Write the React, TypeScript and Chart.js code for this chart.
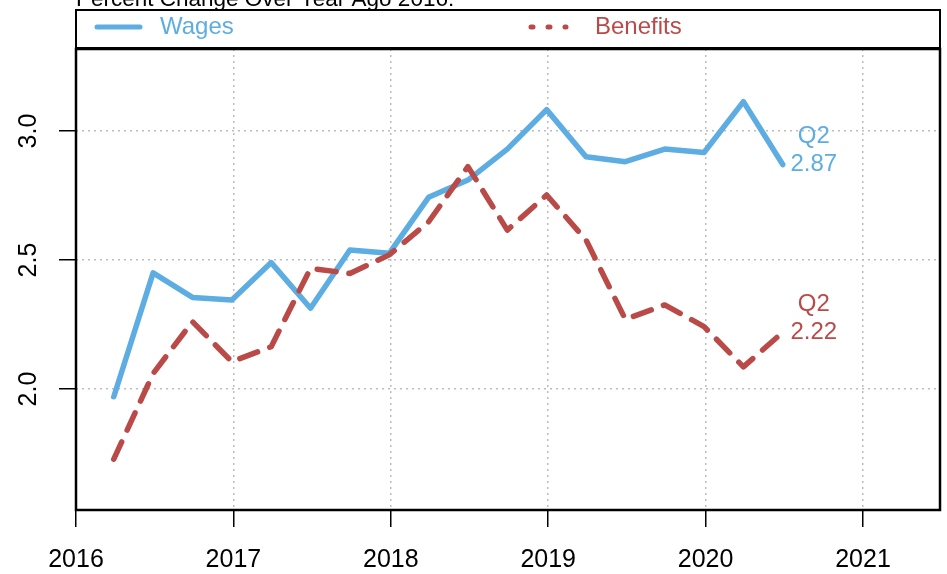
import React, { useEffect, useRef } from "react";
import { Chart, registerables } from "chart.js";

Chart.register(...registerables);

const quarters = [
  2016.24, 2016.49, 2016.74, 2016.99, 2017.24, 2017.49, 2017.74, 2017.99, 2018.24,
  2018.49, 2018.74, 2018.99, 2019.24, 2019.49, 2019.74, 2019.99, 2020.24, 2020.49,
];
const wages = [
  1.97, 2.45, 2.355, 2.345, 2.49, 2.313, 2.539, 2.526, 2.743, 2.81, 2.93, 3.083,
  2.9, 2.881, 2.93, 2.917, 3.114, 2.87,
];
const benefits = [
  1.728, 2.06, 2.261, 2.106, 2.164, 2.468, 2.448, 2.52, 2.648, 2.862, 2.616,
  2.752, 2.578, 2.27, 2.326, 2.242, 2.086, 2.22,
];
const xTicks = [2016, 2017, 2018, 2019, 2020, 2021];
const yTicks = [2.0, 2.5, 3.0];
const yTickLabels = ["2.0", "2.5", "3.0"];
const seriesNames = ["Wages", "Benefits"];
const endLabels = [
  ["Q2", "2.87"],
  ["Q2", "2.22"],
];
const titleText = "Percent Change Over Year Ago 2016:";

const BLUE = "#5DADE2";
const RED = "#B94A48";
const FONT = "'Liberation Sans', Arial, Helvetica, sans-serif";

export default function App() {
  const ref = useRef<HTMLCanvasElement | null>(null);

  useEffect(() => {
    const canvas = ref.current;
    if (!canvas) return;

    const decorPlugin = {
      id: "decor",
      afterDraw(chart: any) {
        const ctx = chart.ctx as CanvasRenderingContext2D;
        const area = chart.chartArea;
        const xs = chart.scales.x;
        const ys = chart.scales.y;
        ctx.save();

        // title (cut off at top)
        ctx.fillStyle = "#000";
        ctx.font = `22.5px ${FONT}`;
        ctx.textAlign = "left";
        ctx.textBaseline = "alphabetic";
        ctx.fillText(titleText, area.left, 5.5);

        // legend box
        ctx.strokeStyle = "#000";
        ctx.lineWidth = 2;
        ctx.strokeRect(area.left, 10, area.right - area.left, area.top - 1 - 10);

        // legend entries
        ctx.lineCap = "round";
        ctx.lineWidth = 5;
        ctx.strokeStyle = BLUE;
        ctx.setLineDash([]);
        ctx.beginPath();
        ctx.moveTo(97, 27);
        ctx.lineTo(140, 27);
        ctx.stroke();
        ctx.strokeStyle = RED;
        ctx.setLineDash([2, 15]);
        ctx.beginPath();
        ctx.moveTo(531, 27);
        ctx.lineTo(566, 27);
        ctx.stroke();
        ctx.setLineDash([]);
        ctx.font = `24px ${FONT}`;
        ctx.textBaseline = "middle";
        ctx.fillStyle = BLUE;
        ctx.fillText(seriesNames[0], 160, 27);
        ctx.fillStyle = RED;
        ctx.fillText(seriesNames[1], 595, 27);

        // plot box
        ctx.strokeStyle = "#000";
        ctx.lineWidth = 2.5;
        ctx.lineCap = "butt";
        ctx.strokeRect(area.left, area.top, area.right - area.left, area.bottom - area.top);

        // y tick labels rotated
        ctx.fillStyle = "#000";
        ctx.font = `25px ${FONT}`;
        ctx.textAlign = "center";
        ctx.textBaseline = "middle";
        yTicks.forEach((v, i) => {
          const py = ys.getPixelForValue(v);
          ctx.save();
          ctx.translate(29, py);
          ctx.rotate(-Math.PI / 2);
          ctx.fillText(yTickLabels[i], 0, 0);
          ctx.restore();
        });

        // end labels
        const series = [wages, benefits];
        const colors = [BLUE, RED];
        ctx.font = `24px ${FONT}`;
        series.forEach((s, i) => {
          const lx = xs.getPixelForValue(quarters[quarters.length - 1]) + 31;
          const ly = ys.getPixelForValue(s[s.length - 1]);
          ctx.fillStyle = colors[i];
          ctx.fillText(endLabels[i][0], lx, ly - 28);
          ctx.fillText(endLabels[i][1], lx, ly);
        });

        ctx.restore();
      },
    };

    const chart = new Chart(canvas, {
      type: "line",
      data: {
        datasets: [
          {
            label: seriesNames[0],
            data: quarters.map((q, i) => ({ x: q, y: wages[i] })),
            borderColor: BLUE,
            borderWidth: 5.5,
            borderCapStyle: "round",
            borderJoinStyle: "round",
            pointRadius: 0,
            tension: 0,
            fill: false,
            order: 1,
          },
          {
            label: seriesNames[1],
            data: quarters.map((q, i) => ({ x: q, y: benefits[i] })),
            borderColor: RED,
            borderWidth: 5.5,
            borderDash: [19, 13],
            borderCapStyle: "round",
            borderJoinStyle: "round",
            pointRadius: 0,
            tension: 0,
            fill: false,
            order: 0,
          },
        ],
      },
      options: {
        animation: false,
        responsive: false,
        devicePixelRatio: 1,
        layout: { padding: { top: 49, right: 7, left: 0, bottom: 0 } },
        plugins: {
          legend: { display: false },
          title: { display: false },
          tooltip: { enabled: false },
        },
        scales: {
          x: {
            type: "linear",
            min: 2016,
            max: 2021.489,
            afterBuildTicks: (scale: any) => {
              scale.ticks = xTicks.map((v) => ({ value: v }));
            },
            afterFit: (scale: any) => {
              scale.height = 64;
            },
            ticks: {
              color: "#000",
              font: { size: 25, family: FONT },
              padding: 18,
              maxRotation: 0,
              minRotation: 0,
              autoSkip: false,
              callback: (v: any) => String(v),
            },
            grid: {
              color: "#BDBDBD",
              lineWidth: 1.5,
              drawTicks: true,
              tickLength: 17,
              tickColor: "#000",
              tickWidth: 1.5,
              tickBorderDash: [],
            },
            border: { display: false, dash: [2, 4] },
          },
          y: {
            type: "linear",
            min: 1.531,
            max: 3.318,
            afterBuildTicks: (scale: any) => {
              scale.ticks = yTicks.map((v) => ({ value: v }));
            },
            afterFit: (scale: any) => {
              scale.width = 76;
            },
            ticks: { display: false },
            grid: {
              color: "#BDBDBD",
              lineWidth: 1.5,
              drawTicks: true,
              tickLength: 17,
              tickColor: "#000",
              tickWidth: 1.5,
              tickBorderDash: [],
            },
            border: { display: false, dash: [2, 4] },
          },
        },
      },
      plugins: [decorPlugin],
    } as any);

    return () => chart.destroy();
  }, []);

  return (
    <canvas
      ref={ref}
      width={947}
      height={574}
      style={{ position: "fixed", left: 0, top: 0, width: 947, height: 574, background: "#fff" }}
    />
  );
}
